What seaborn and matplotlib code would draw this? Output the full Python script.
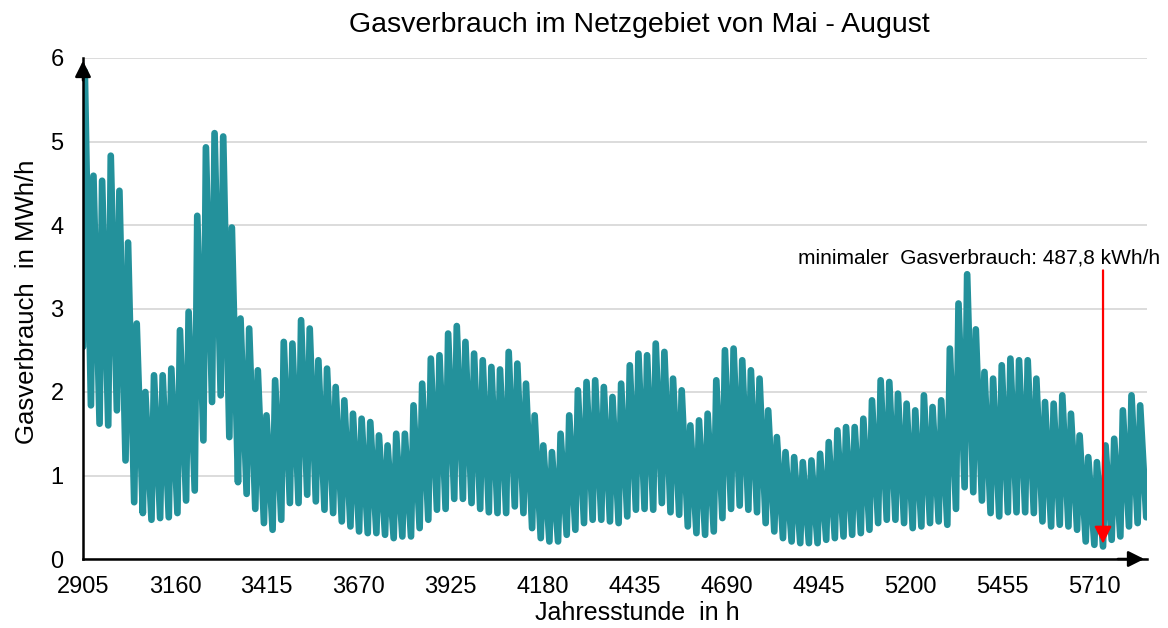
import numpy as np
import pandas as pd
import matplotlib
matplotlib.use("Agg")
import matplotlib.pyplot as plt
import seaborn as sns

START_HOUR = 2905
START_VALUE = 2.54
PEAK_HOUR = 5     # hour of day where the daily maximum sits
LOW_HOUR = 22     # hour of day where the daily minimum sits

daily_peak = [
    5.84, 4.59, 4.53, 4.83, 4.41, 3.79, 2.82, 2.00, 2.20, 2.20,
    2.28, 2.74, 2.96, 4.11, 4.93, 5.10, 5.06, 3.97, 2.88, 2.76,
    2.26, 1.72, 2.14, 2.60, 2.58, 2.86, 2.76, 2.38, 2.28, 2.06,
    1.90, 1.74, 1.68, 1.64, 1.48, 1.36, 1.50, 1.50, 1.84, 2.10,
    2.40, 2.44, 2.70, 2.79, 2.60, 2.46, 2.38, 2.30, 2.27, 2.48,
    2.34, 2.10, 1.72, 1.36, 1.28, 1.50, 1.72, 2.02, 2.12, 2.14,
    2.06, 1.94, 2.10, 2.32, 2.46, 2.44, 2.58, 2.48, 2.16, 2.02,
    1.60, 1.66, 1.74, 2.14, 2.50, 2.52, 2.38, 2.26, 2.16, 1.78,
    1.46, 1.28, 1.22, 1.16, 1.18, 1.26, 1.40, 1.54, 1.58, 1.58,
    1.68, 1.90, 2.14, 2.12, 1.98, 1.86, 1.78, 1.96, 1.82, 1.90,
    2.52, 3.06, 3.41, 2.75, 2.24, 2.16, 2.32, 2.40, 2.38, 2.38,
    2.16, 1.88, 1.86, 1.96, 1.74, 1.48, 1.22, 1.16, 1.36, 1.44,
    1.78, 1.96, 1.84,
]
daily_low = [
    1.84, 1.62, 1.60, 1.78, 1.18, 0.68, 0.55, 0.47, 0.49, 0.50,
    0.55, 0.70, 0.82, 1.42, 1.88, 1.96, 1.46, 0.92, 0.78, 0.60,
    0.43, 0.35, 0.47, 0.67, 0.67, 0.77, 0.69, 0.59, 0.55, 0.45,
    0.39, 0.33, 0.31, 0.31, 0.29, 0.25, 0.27, 0.27, 0.37, 0.47,
    0.59, 0.60, 0.72, 0.72, 0.67, 0.60, 0.56, 0.55, 0.55, 0.63,
    0.55, 0.37, 0.25, 0.21, 0.21, 0.29, 0.35, 0.43, 0.47, 0.47,
    0.45, 0.43, 0.51, 0.59, 0.60, 0.59, 0.67, 0.56, 0.53, 0.39,
    0.31, 0.29, 0.33, 0.49, 0.60, 0.64, 0.59, 0.56, 0.43, 0.33,
    0.25, 0.21, 0.19, 0.19, 0.19, 0.23, 0.25, 0.27, 0.29, 0.31,
    0.35, 0.43, 0.47, 0.47, 0.43, 0.37, 0.39, 0.43, 0.45, 0.41,
    0.60, 0.86, 0.80, 0.70, 0.55, 0.51, 0.56, 0.56, 0.56, 0.55,
    0.45, 0.39, 0.41, 0.39, 0.35, 0.21, 0.17, 0.15, 0.23, 0.27,
    0.39, 0.43, 0.50,
]

X_TICKS = [2905, 3160, 3415, 3670, 3925, 4180, 4435, 4690, 4945, 5200, 5455, 5710]
Y_TICKS = [0, 1, 2, 3, 4, 5, 6]
MIN_HOUR = 5735
MIN_LABEL = "minimaler  Gasverbrauch: 487,8 kWh/h"

LINE_COLOR = "#23919b"

n_days = len(daily_peak)
day_start = START_HOUR + 24 * np.arange(n_days)
hours = np.concatenate([[START_HOUR],
                        np.column_stack([day_start + PEAK_HOUR, day_start + LOW_HOUR]).ravel()])
values = np.concatenate([[START_VALUE],
                         np.column_stack([daily_peak, daily_low]).ravel()])
df = pd.DataFrame({"hour": hours, "value": values})

sns.set_theme(style="white")
plt.rcParams["font.family"] = ["Liberation Sans", "DejaVu Sans"]
plt.rcParams["text.color"] = "black"

fig = plt.figure(figsize=(11.68, 6.28), dpi=100)
ax = fig.add_axes([83 / 1168, 1 - 559 / 628, (1147 - 83) / 1168, (559 - 58) / 628])

sns.lineplot(data=df, x="hour", y="value", ax=ax, color=LINE_COLOR, lw=4.8,
             sort=False, estimator=None, solid_capstyle="round", solid_joinstyle="round",
             zorder=3)

ax.set_xlim(START_HOUR, START_HOUR + 24 * n_days)
ax.set_ylim(0, 6)
ax.set_xticks(X_TICKS)
ax.set_xticklabels([str(t) for t in X_TICKS])
ax.set_yticks(Y_TICKS)
ax.yaxis.grid(True, color="#d9d9d9", lw=1.3)
ax.set_axisbelow(True)
ax.set_xlabel(""); ax.set_ylabel("")
ax.tick_params(axis="y", length=0, pad=14, labelsize=17, colors="black")
ax.tick_params(axis="x", length=0, pad=12, labelsize=17, colors="black")

for side in ["top", "right"]:
    ax.spines[side].set_visible(False)
for side in ["left", "bottom"]:
    ax.spines[side].set_color("black")
    ax.spines[side].set_linewidth(1.8)
    ax.spines[side].set_zorder(4)

# arrow heads on the axes
ax.annotate("", xy=(1.0, 0), xytext=(0.97, 0), xycoords="axes fraction",
            arrowprops=dict(arrowstyle="-|>", color="black", lw=1.8, mutation_scale=24),
            zorder=5, annotation_clip=False)
ax.annotate("", xy=(0, 1.0), xytext=(0, 0.95), xycoords="axes fraction",
            arrowprops=dict(arrowstyle="-|>", color="black", lw=1.8, mutation_scale=24),
            zorder=5, annotation_clip=False)

# minimum marker
min_value = min(daily_low)
ax.annotate("", xy=(MIN_HOUR, min_value), xytext=(MIN_HOUR, 3.49),
            arrowprops=dict(arrowstyle="-|>", color="red", lw=1.6, mutation_scale=26),
            zorder=6)
ax.text(5391, 3.6, MIN_LABEL, fontsize=15, ha="center", va="center", color="black")

fig.text(639.5 / 1168, 1 - 25 / 628, "Gasverbrauch im Netzgebiet von Mai - August",
         fontsize=20.5, ha="center", va="center", color="black")
fig.text(637 / 1168, 1 - 613 / 628, "Jahresstunde  in h", fontsize=18,
         ha="center", va="center", color="black")
fig.text(27 / 1168, 1 - 302 / 628, "Gasverbrauch  in MWh/h", fontsize=18.5,
         ha="center", va="center", rotation=90, color="black")

fig.savefig("out.png", dpi=100)
